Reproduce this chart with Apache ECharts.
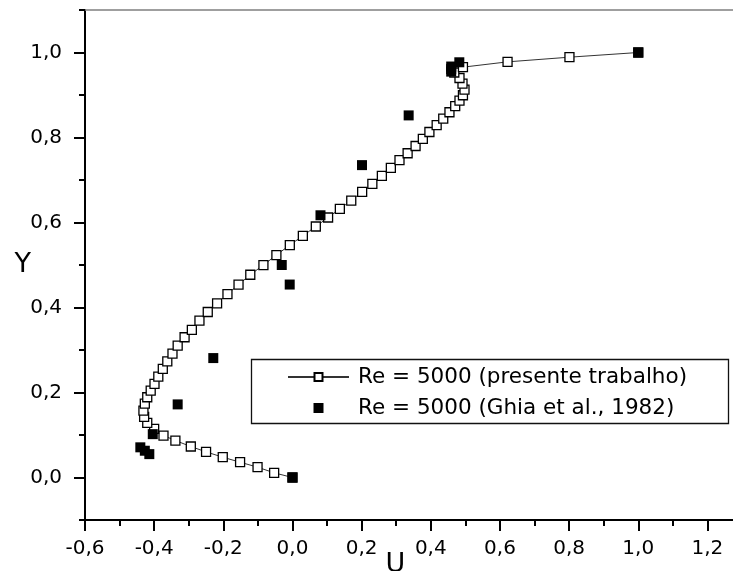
<!DOCTYPE html>
<html>
<head>
<meta charset="utf-8">
<script src="https://cdn.jsdelivr.net/npm/echarts@6/dist/echarts.min.js"></script>
<style>
html,body{margin:0;padding:0;background:#fff}
#main{width:733px;height:571px}
</style>
</head>
<body>
<div id="main"></div>
<script>
// presente trabalho (linha com quadrados abertos), de y=0 ate y=1
var presU = [0, -0.053, -0.101, -0.1515, -0.2016, -0.2499, -0.294, -0.3386, -0.373, -0.400,
	-0.420, -0.429, -0.431, -0.427, -0.420, -0.410, -0.399, -0.388, -0.375, -0.362,
	-0.347, -0.332, -0.312, -0.291, -0.269, -0.245, -0.218, -0.188, -0.156, -0.122,
	-0.084, -0.0465, -0.0077, 0.030, 0.0675, 0.103, 0.137, 0.170, 0.2015, 0.231,
	0.2585, 0.2845, 0.3095, 0.333, 0.356, 0.377, 0.396, 0.417, 0.436, 0.454,
	0.4706, 0.483, 0.493, 0.4975, 0.4917, 0.483, 0.468, 0.493, 0.622, 0.801, 1.0];
var presV = [0, 0.011, 0.0243, 0.036, 0.0478, 0.0603, 0.0729, 0.087, 0.0987, 0.1144,
	0.1285, 0.1426, 0.1575, 0.174, 0.1888, 0.2045, 0.2202, 0.2374, 0.2555, 0.2733,
	0.2914, 0.3102, 0.330, 0.3475, 0.369, 0.3894, 0.4096, 0.4317, 0.4536, 0.4771,
	0.4999, 0.5234, 0.5469, 0.5687, 0.5906, 0.6118, 0.6322, 0.6517, 0.6722, 0.691,
	0.7098, 0.7286, 0.7466, 0.763, 0.780, 0.7967, 0.813, 0.829, 0.8445, 0.8594,
	0.8736, 0.8868, 0.8994, 0.9126, 0.9267, 0.940, 0.953, 0.9655, 0.978, 0.989, 1.0];
// Ghia et al., 1982 (quadrados cheios)
var ghiaU = [1.0, 0.4825, 0.459, 0.459, 0.459, 0.336, 0.201, 0.081, -0.031, -0.008,
	-0.229, -0.332, -0.404, -0.440, -0.427, -0.414, 0.0];
var ghiaV = [1.0, 0.977, 0.967, 0.961, 0.955, 0.852, 0.735, 0.617, 0.500, 0.454,
	0.281, 0.172, 0.102, 0.071, 0.063, 0.055, 0.0];

var xMajor = [-0.6, -0.4, -0.2, 0, 0.2, 0.4, 0.6, 0.8, 1.0, 1.2];
var xMinor = [-0.5, -0.3, -0.1, 0.1, 0.3, 0.5, 0.7, 0.9, 1.1];
var yMajor = [0, 0.2, 0.4, 0.6, 0.8, 1.0];
var yMinor = [-0.1, 0.1, 0.3, 0.5, 0.7, 0.9, 1.1];

var nomePres = 'Re = 5000 (presente trabalho)';
var nomeGhia = 'Re = 5000 (Ghia et al., 1982)';

var fonte = 'DejaVu Sans';
var fmt = function(v){
	return v.toFixed(1).replace('.', ',');
};

var dadosPres = [];
for(var i = 0; i < presU.length; i++){
	dadosPres.push([presU[i], presV[i]]);
}
var dadosGhia = [];
for(var k = 0; k < ghiaU.length; k++){
	dadosGhia.push([ghiaU[k], ghiaV[k]]);
}

var myChart = echarts.init(document.getElementById('main'));
var option = {
	animation: false,
	backgroundColor: '#fff',
	textStyle: {fontFamily: fonte},
	grid: {left: 85, right: -9, top: 10, bottom: 51, containLabel: false, outerBoundsMode: 'none'},
	legend: {
		orient: 'vertical',
		left: 287,
		top: 366,
		padding: 0,
		itemWidth: 61,
		itemHeight: 10,
		itemGap: 9,
		textStyle: {fontFamily: fonte, fontSize: 21.5, lineHeight: 22, color: '#000', padding: [0, 0, 0, 4]},
		data: [
			{name: nomePres},
			{name: nomeGhia, icon: 'path://M0,0L10,0L10,10L0,10Z'}
		]
	},
	graphic: [{
		type: 'rect',
		shape: {x: 251.5, y: 359.5, width: 477, height: 64},
		style: {fill: 'none', stroke: '#111', lineWidth: 1.3},
		z: 10
	}],
	xAxis: [
		{
			type: 'value',
			min: -0.6,
			max: 1.3,
			position: 'bottom',
			name: 'U',
			nameLocation: 'middle',
			nameGap: 31,
			nameMoveOverlap: false,
			nameTextStyle: {fontFamily: fonte, fontSize: 27, color: '#000', padding: [0, 36, 0, 0]},
			axisLine: {onZero: false, lineStyle: {color: '#000', width: 2}},
			axisTick: {customValues: xMajor, length: 11, lineStyle: {color: '#000', width: 2}},
			axisLabel: {customValues: xMajor, formatter: fmt, fontSize: 20, color: '#000', margin: 19, fontFamily: fonte},
			splitLine: {show: false}
		},
		{
			type: 'value',
			min: -0.6,
			max: 1.3,
			position: 'bottom',
			axisLine: {show: false, onZero: false},
			axisTick: {customValues: xMinor, length: 6, lineStyle: {color: '#000', width: 2}},
			axisLabel: {show: false},
			splitLine: {show: false}
		},
		{
			type: 'value',
			min: -0.6,
			max: 1.3,
			position: 'top',
			axisLine: {onZero: false, lineStyle: {color: '#808080', width: 1.5}},
			axisTick: {show: false},
			axisLabel: {show: false},
			splitLine: {show: false}
		}
	],
	yAxis: [
		{
			type: 'value',
			min: -0.1,
			max: 1.1,
			position: 'left',
			name: 'Y',
			nameLocation: 'middle',
			nameRotate: 0,
			nameGap: 54,
			nameMoveOverlap: false,
			nameTextStyle: {fontFamily: fonte, fontSize: 27, color: '#000'},
			axisLine: {onZero: false, lineStyle: {color: '#000', width: 2}},
			axisTick: {customValues: yMajor, length: 11, lineStyle: {color: '#000', width: 2}},
			axisLabel: {customValues: yMajor, formatter: fmt, fontSize: 20, color: '#000', margin: 23, fontFamily: fonte},
			splitLine: {show: false}
		},
		{
			type: 'value',
			min: -0.1,
			max: 1.1,
			position: 'left',
			axisLine: {show: false, onZero: false},
			axisTick: {customValues: yMinor, length: 6, lineStyle: {color: '#000', width: 2}},
			axisLabel: {show: false},
			splitLine: {show: false}
		}
	],
	series: [
		{
			name: nomePres,
			type: 'line',
			xAxisIndex: 0,
			yAxisIndex: 0,
			data: dadosPres,
			symbol: 'rect',
			symbolSize: 9,
			showAllSymbol: true,
			lineStyle: {color: '#333', width: 1},
			itemStyle: {color: '#fff', borderColor: '#000', borderWidth: 1.3},
			z: 2
		},
		{
			name: nomeGhia,
			type: 'scatter',
			xAxisIndex: 0,
			yAxisIndex: 0,
			data: dadosGhia,
			symbol: 'rect',
			symbolSize: 10,
			itemStyle: {color: '#000', opacity: 1},
			z: 3
		}
	]
};
myChart.setOption(option);
</script>
</body>
</html>
